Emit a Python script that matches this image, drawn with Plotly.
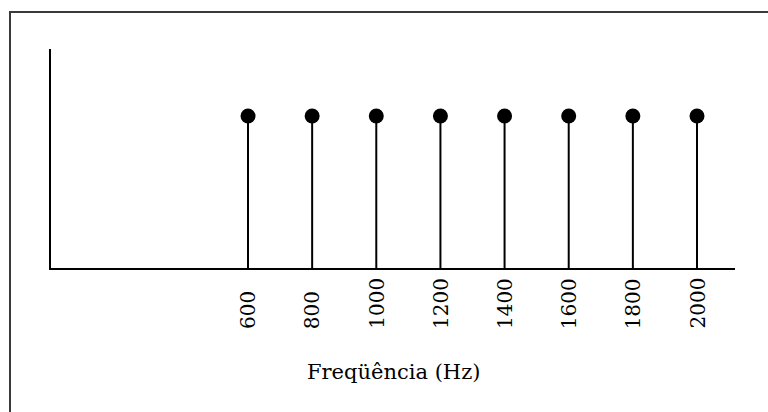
import plotly.graph_objects as go

# Line spectrum: eight harmonic components of equal amplitude
freqs = [600, 800, 1000, 1200, 1400, 1600, 1800, 2000]
amps = [1, 1, 1, 1, 1, 1, 1, 1]
tick_labels = ["600", "800", "1000", "1200", "1400", "1600", "1800", "2000"]
x_title = "Freqüência (Hz)"

# Stems: vertical segments from the baseline up to each amplitude
stem_x, stem_y = [], []
for f, a in zip(freqs, amps):
    stem_x += [f, f, None]
    stem_y += [0, a, None]

fig = go.Figure()
fig.add_trace(go.Scatter(
    x=stem_x, y=stem_y, mode="lines",
    line=dict(color="black", width=2),
    hoverinfo="skip", showlegend=False,
))
fig.add_trace(go.Scatter(
    x=freqs, y=amps, mode="markers",
    marker=dict(color="black", size=15, line=dict(width=0)),
    showlegend=False,
))

W, H = 768, 412
L, R, T, B = 51, 33, 49, 144
pw, ph = W - L - R, H - T - B

# Outer frame (right and bottom edges fall outside the canvas)
fig.add_shape(
    type="rect", xref="paper", yref="paper",
    x0=(10 - L) / pw, x1=(772 - L) / pw,
    y0=-(416 - (T + ph)) / ph, y1=1 + (T - 12) / ph,
    line=dict(color="#3a3a3a", width=2), fillcolor="rgba(0,0,0,0)",
    layer="below",
)

# Vertical frequency labels, bottom-aligned under each stem
serif = "DejaVu Serif"
for f, lab in zip(freqs, tick_labels):
    fig.add_annotation(
        x=f, xref="x", y=-(331 - (T + ph)) / ph, yref="paper",
        text=lab, textangle=-90, showarrow=False,
        xanchor="center", yanchor="bottom",
        font=dict(size=20, family=serif, color="black"),
    )

# Axis title
fig.add_annotation(
    x=0.5, xref="paper", y=-(372 - (T + ph)) / ph, yref="paper",
    text=x_title, showarrow=False, xanchor="center", yanchor="middle",
    font=dict(size=21, family=serif, color="black"),
)

fig.update_layout(
    width=W, height=H,
    margin=dict(l=L, r=R, t=T, b=B, pad=0),
    paper_bgcolor="white", plot_bgcolor="white",
    font=dict(family=serif, color="black"),
    xaxis=dict(
        range=[-14.3, 2118.5],
        tickmode="array", tickvals=freqs,
        showticklabels=False, ticks="", showgrid=False, zeroline=False,
        showline=True, linecolor="black", linewidth=2,
    ),
    yaxis=dict(
        range=[0, 1.4408],
        showticklabels=False, ticks="", showgrid=False, zeroline=False,
        showline=True, linecolor="black", linewidth=2,
    ),
)

fig.write_html("out.html")
